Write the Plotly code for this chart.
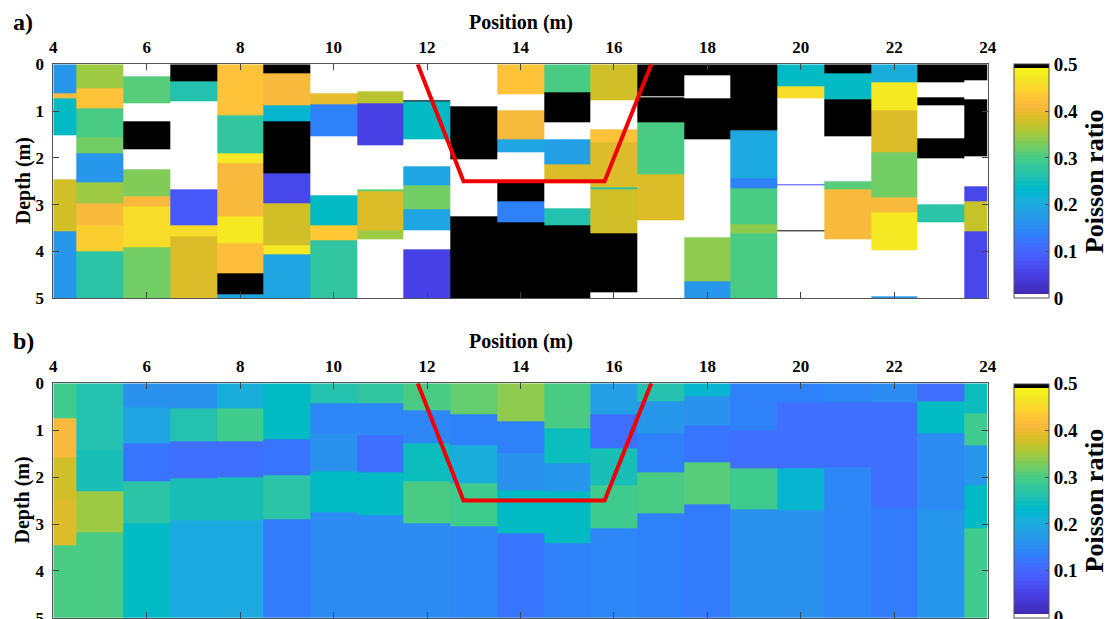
import plotly.graph_objects as go

# ---------------- data ----------------
POSITIONS = list(range(4, 25))          # column centres (m)
X_TICKS = [4, 6, 8, 10, 12, 14, 16, 18, 20, 22, 24]
Y_TICKS = [0, 1, 2, 3, 4, 5]
CB_TICKS = [0, 0.1, 0.2, 0.3, 0.4, 0.5]

# panel a) : layer boundaries (depth, m) and Poisson ratio per column (0 -> white, 0.5 -> black)
A_BOUNDS = [
    [0, 0.62, 0.73, 1.51, 2.46, 3.56, 5],
    [0, 0.51, 0.94, 1.55, 1.91, 2.52, 2.96, 3.43, 4.0, 5],
    [0, 0.26, 0.83, 1.22, 1.81, 2.24, 2.81, 3.03, 3.9, 5],
    [0, 0.36, 0.79, 2.67, 3.43, 3.67, 5],
    [0, 1.1, 1.91, 2.11, 3.24, 3.82, 4.47, 4.91, 5],
    [0, 0.19, 0.87, 1.21, 2.33, 2.96, 3.86, 4.07, 5],
    [0, 0.62, 0.86, 1.53, 2.79, 3.44, 3.77, 5],
    [0, 0.58, 0.84, 1.73, 2.68, 2.71, 3.54, 3.73, 5],
    [0, 0.77, 0.8, 1.61, 2.17, 2.58, 3.09, 3.54, 3.95, 5],
    [0, 0.9, 2.04, 3.25, 5],
    [0, 0.64, 0.99, 1.6, 1.89, 2.5, 2.93, 3.38, 5],
    [0, 0.6, 1.23, 1.6, 2.13, 2.54, 3.08, 3.43, 5],
    [0, 0.76, 1.39, 1.67, 2.63, 2.67, 3.61, 4.88, 5],
    [0, 0.68, 0.71, 1.24, 2.35, 3.33, 5],
    [0, 0.24, 0.73, 1.6, 3.7, 4.64, 5],
    [0, 1.42, 2.43, 2.66, 3.42, 3.61, 5],
    [0, 0.48, 0.73, 2.56, 2.59, 3.54, 3.56, 5],
    [0, 0.19, 0.74, 1.53, 2.49, 2.67, 3.74, 5],
    [0, 0.39, 0.98, 1.89, 2.84, 3.17, 3.97, 4.95, 5],
    [0, 0.39, 0.71, 0.87, 1.58, 2.0, 3.0, 3.38, 5],
    [0, 0.35, 0.74, 1.96, 2.61, 2.93, 3.56, 5],
]
A_VALUES = [
    [0.165, 0.41, 0.235, 0, 0.375, 0.165],
    [0.35, 0.425, 0.30, 0.325, 0.165, 0.345, 0.41, 0.44, 0.27],
    [0, 0.305, 0, 0.5, 0, 0.335, 0.41, 0.46, 0.325],
    [0.5, 0.265, 0, 0.085, 0.455, 0.39],
    [0.425, 0.275, 0.47, 0.41, 0.47, 0.415, 0.5, 0.19],
    [0.5, 0.41, 0.225, 0.5, 0.06, 0.38, 0.47, 0.19],
    [0, 0.395, 0.14, 0, 0.24, 0.43, 0.275],
    [0, 0.365, 0.05, 0, 0.32, 0.39, 0.35, 0],
    [0, 0.5, 0.24, 0, 0.19, 0.325, 0.19, 0, 0.05],
    [0, 0.5, 0, 0.5],
    [0.425, 0, 0.41, 0.19, 0, 0.5, 0.135, 0.5],
    [0.3, 0.5, 0, 0.18, 0.39, 0, 0.265, 0.5],
    [0.38, 0, 0.425, 0.39, 0.27, 0.375, 0.5, 0],
    [0.5, 0, 0.5, 0.3, 0.39, 0],
    [0.5, 0, 0.5, 0, 0.34, 0.165],
    [0.5, 0.2, 0.135, 0.3, 0.34, 0.3],
    [0.24, 0.46, 0, 0.06, 0, 0.5, 0],
    [0.5, 0.24, 0.5, 0, 0.31, 0.41, 0],
    [0.21, 0.47, 0.39, 0.325, 0.41, 0.475, 0, 0.165],
    [0.5, 0, 0.5, 0, 0.5, 0, 0.27, 0],
    [0.5, 0, 0.5, 0, 0.06, 0.37, 0.06],
]

# panel b)
B_BOUNDS = [
    [0, 0.74, 1.57, 2.47, 3.46, 5],
    [0, 1.43, 2.31, 3.17, 5],
    [0, 0.52, 1.27, 2.08, 2.99, 5],
    [0, 0.54, 1.23, 2.02, 2.92, 5],
    [0, 0.54, 1.23, 2.0, 2.92, 5],
    [0, 1.2, 1.97, 2.89, 5],
    [0, 0.43, 1.07, 1.88, 2.76, 5],
    [0, 0.43, 1.1, 1.89, 2.81, 5],
    [0, 0.57, 1.27, 2.08, 2.99, 5],
    [0, 0.66, 1.32, 2.13, 3.04, 5],
    [0, 0.8, 1.5, 2.29, 3.19, 5],
    [0, 0.96, 1.71, 2.3, 3.42, 5],
    [0, 0.67, 1.38, 2.17, 3.09, 5],
    [0, 0.39, 1.07, 1.89, 2.77, 5],
    [0, 0.28, 0.89, 1.69, 2.57, 5],
    [0, 1.0, 1.81, 2.69, 5],
    [0, 0.41, 1.81, 2.7, 5],
    [0, 0.41, 1.8, 5],
    [0, 0.41, 2.64, 5],
    [0, 0.39, 1.07, 2.7, 5],
    [0, 0.63, 1.32, 2.17, 3.09, 5],
]
B_VALUES = [
    [0.295, 0.41, 0.375, 0.39, 0.3],
    [0.265, 0.25, 0.345, 0.3],
    [0.16, 0.19, 0.12, 0.27, 0.235],
    [0.16, 0.265, 0.115, 0.255, 0.2],
    [0.21, 0.29, 0.115, 0.255, 0.2],
    [0.235, 0.12, 0.27, 0.13],
    [0.26, 0.145, 0.16, 0.235, 0.155],
    [0.275, 0.145, 0.115, 0.235, 0.155],
    [0.3, 0.145, 0.245, 0.3, 0.15],
    [0.315, 0.14, 0.205, 0.295, 0.145],
    [0.34, 0.135, 0.16, 0.235, 0.12],
    [0.3, 0.245, 0.17, 0.24, 0.135],
    [0.18, 0.11, 0.25, 0.295, 0.145],
    [0.265, 0.165, 0.135, 0.3, 0.135],
    [0.22, 0.16, 0.12, 0.31, 0.125],
    [0.135, 0.115, 0.295, 0.16],
    [0.135, 0.11, 0.22, 0.16],
    [0.145, 0.11, 0.145],
    [0.155, 0.11, 0.125],
    [0.115, 0.24, 0.15, 0.165],
    [0.245, 0.295, 0.17, 0.235, 0.295],
]

# red trench outline
TRENCH_X = [11.8, 12.78, 15.8, 16.8]
TRENCH_Y = [0, 2.5, 2.5, 0]

# ---------------- style ----------------
PARULA = [
    [0.2422, 0.1504, 0.6603], [0.2504, 0.1650, 0.7076], [0.2578, 0.1818, 0.7511], [0.2647, 0.1978, 0.7952],
    [0.2706, 0.2147, 0.8364], [0.2751, 0.2342, 0.8710], [0.2783, 0.2559, 0.8991], [0.2803, 0.2782, 0.9221],
    [0.2813, 0.3006, 0.9414], [0.2810, 0.3228, 0.9579], [0.2795, 0.3447, 0.9717], [0.2760, 0.3667, 0.9829],
    [0.2699, 0.3892, 0.9906], [0.2602, 0.4123, 0.9952], [0.2440, 0.4358, 0.9988], [0.2206, 0.4603, 0.9973],
    [0.1963, 0.4847, 0.9892], [0.1834, 0.5074, 0.9798], [0.1786, 0.5289, 0.9682], [0.1764, 0.5499, 0.9520],
    [0.1687, 0.5703, 0.9359], [0.1540, 0.5902, 0.9218], [0.1460, 0.6091, 0.9079], [0.1380, 0.6276, 0.8973],
    [0.1248, 0.6459, 0.8883], [0.1113, 0.6635, 0.8763], [0.0952, 0.6798, 0.8598], [0.0689, 0.6948, 0.8394],
    [0.0297, 0.7082, 0.8163], [0.0036, 0.7203, 0.7917], [0.0067, 0.7312, 0.7660], [0.0433, 0.7411, 0.7394],
    [0.0964, 0.7500, 0.7120], [0.1408, 0.7584, 0.6842], [0.1717, 0.7670, 0.6554], [0.1938, 0.7758, 0.6251],
    [0.2161, 0.7843, 0.5923], [0.2470, 0.7918, 0.5567], [0.2906, 0.7973, 0.5188], [0.3406, 0.8008, 0.4789],
    [0.3909, 0.8029, 0.4354], [0.4456, 0.8024, 0.3909], [0.5044, 0.7993, 0.3480], [0.5616, 0.7942, 0.3045],
    [0.6174, 0.7876, 0.2612], [0.6720, 0.7793, 0.2227], [0.7242, 0.7698, 0.1910], [0.7738, 0.7598, 0.1646],
    [0.8203, 0.7498, 0.1535], [0.8634, 0.7406, 0.1596], [0.9035, 0.7330, 0.1774], [0.9393, 0.7288, 0.2100],
    [0.9728, 0.7298, 0.2394], [0.9956, 0.7434, 0.2371], [0.9970, 0.7659, 0.2199], [0.9952, 0.7893, 0.2028],
    [0.9892, 0.8136, 0.1885], [0.9786, 0.8386, 0.1766], [0.9676, 0.8639, 0.1643], [0.9610, 0.8890, 0.1537],
    [0.9597, 0.9135, 0.1423], [0.9628, 0.9373, 0.1265], [0.9691, 0.9606, 0.1064], [0.9769, 0.9839, 0.0805],
]


def rgb(c):
    return "rgb(%d,%d,%d)" % tuple(round(v * 255) for v in c)


n = len(PARULA)
colorscale = []
for i in range(n):
    if i == 0:
        col = "rgb(255,255,255)"
    elif i == n - 1:
        col = "rgb(0,0,0)"
    else:
        col = rgb(PARULA[i])
    colorscale.append([i / n, col])
    colorscale.append([(i + 1) / n, col])

x_edges = [POSITIONS[0]] + [(a + b) / 2 for a, b in zip(POSITIONS[:-1], POSITIONS[1:])] + [POSITIONS[-1]]


def build_grid(bounds, values):
    ys = sorted(set(b for col in bounds for b in col))
    z = []
    for i in range(len(ys) - 1):
        mid = (ys[i] + ys[i + 1]) / 2
        row = []
        for bnd, val in zip(bounds, values):
            v = None
            for k in range(len(val)):
                if bnd[k] <= mid < bnd[k + 1]:
                    v = val[k]
                    break
            row.append(v)
        z.append(row)
    return ys, z


# page has an 8px body margin: figure origin sits at (8, 8) of the window
OFF = 8
W, H = 1119 - OFF, 619 - OFF
FONT = "Liberation Serif"
L, R = 53.3, 987.7                       # window pixel coordinates of the plot box
PANELS = [(64.3, 298.3), (383.3, 617.8)]


def px(x):
    return (x - OFF) / W


def py(y):
    return 1 - (y - OFF) / H


fig = go.Figure()
for idx, (bounds, values) in enumerate([(A_BOUNDS, A_VALUES), (B_BOUNDS, B_VALUES)]):
    ys, z = build_grid(bounds, values)
    top, bot = PANELS[idx]
    sfx = "" if idx == 0 else "2"
    fig.add_trace(go.Heatmap(
        x=x_edges, y=ys, z=z, zmin=0, zmax=0.5, colorscale=colorscale,
        xaxis="x" + sfx, yaxis="y" + sfx, hoverinfo="skip",
        colorbar=dict(
            x=px(1014.3), xanchor="left", xpad=0, ypad=0,
            y=py((top + bot) / 2), yanchor="middle",
            len=(bot - top) / H, lenmode="fraction", thickness=35,
            outlinewidth=1, outlinecolor="#555",
            tickvals=CB_TICKS, ticktext=[("%g" % t) for t in CB_TICKS],
            ticks="inside", ticklen=4, tickcolor="#555", ticklabeloverflow="allow",
            tickfont=dict(family=FONT, size=19, color="black", weight="bold"),
            title=dict(text="Poisson ratio", side="right",
                       font=dict(family=FONT, size=26, color="black", weight="bold")),
        ),
    ))
    fig.add_trace(go.Scatter(
        x=TRENCH_X, y=TRENCH_Y, mode="lines", line=dict(color="#f00000", width=4),
        xaxis="x" + sfx, yaxis="y" + sfx, showlegend=False, hoverinfo="skip",
    ))

axis_common = dict(
    showgrid=False, zeroline=False, showline=True, linecolor="#555", linewidth=1,
    mirror="ticks", ticks="inside", ticklen=6, tickcolor="#444", tickwidth=1,
    ticklabeloverflow="allow",
    tickfont=dict(family=FONT, size=17, color="black", weight="bold"),
)
for idx in range(2):
    top, bot = PANELS[idx]
    sfx = "" if idx == 0 else "2"
    fig.update_layout(**{
        "xaxis" + sfx: dict(axis_common, domain=[px(L), px(R)], range=[4, 24], side="top",
                            tickvals=X_TICKS, anchor="y" + sfx, ticklabelstandoff=4),
        "yaxis" + sfx: dict(axis_common, domain=[py(bot), py(top)], range=[5, 0],
                            tickvals=Y_TICKS, anchor="x" + sfx, ticklabelstandoff=5),
    })

ann = []
for idx, label in enumerate(["a)", "b)"]):
    top, bot = PANELS[idx]
    ann.append(dict(x=px(23), y=py(top - 42), text=label, showarrow=False, xref="paper", yref="paper",
                    xanchor="center", yanchor="middle",
                    font=dict(family=FONT, size=24, color="black", weight="bold")))
    ann.append(dict(x=px((L + R) / 2), y=py(top - 42), text="Position (m)", showarrow=False,
                    xref="paper", yref="paper", xanchor="center", yanchor="middle",
                    font=dict(family=FONT, size=20, color="black", weight="bold")))
    ann.append(dict(x=px(23), y=py((top + bot) / 2), text="Depth (m)", textangle=-90, showarrow=False,
                    xref="paper", yref="paper", xanchor="center", yanchor="middle",
                    font=dict(family=FONT, size=20, color="black", weight="bold")))

fig.update_layout(
    width=W, height=H, margin=dict(l=0, r=0, t=0, b=0, autoexpand=False),
    paper_bgcolor="white", plot_bgcolor="white", showlegend=False,
    annotations=ann,
)

fig.write_html("out.html")
